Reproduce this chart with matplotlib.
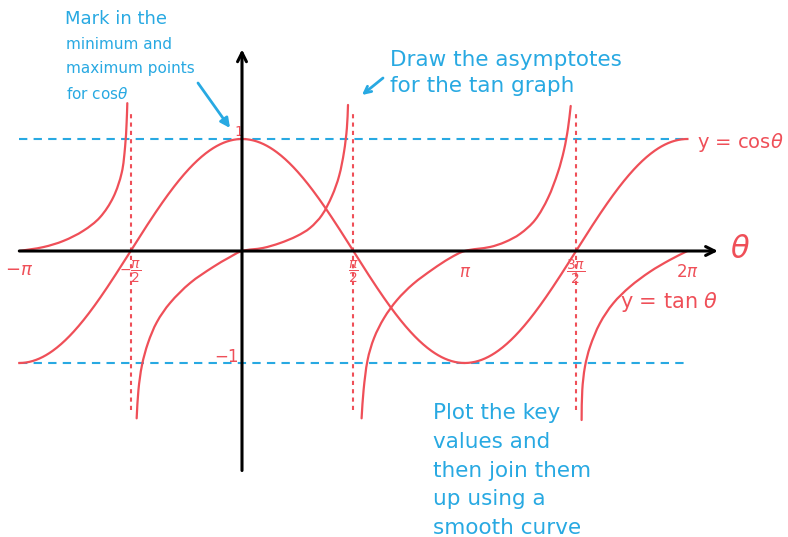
import numpy as np
import matplotlib.pyplot as plt
from matplotlib.path import Path
from matplotlib.patches import PathPatch

# ---- data ----
theta_ticks = [-1.0, -0.5, 0.5, 1.0, 1.5, 2.0]          # multiples of pi
tick_labels = [r"$-\pi$", r"$-\dfrac{\pi}{2}$", r"$\dfrac{\pi}{2}$", r"$\pi$",
               r"$\dfrac{3\pi}{2}$", r"$2\pi$"]
asymptotes = [-0.5, 0.5, 1.5]                            # multiples of pi
cos_extrema_levels = [1, -1]
cos_range = (-1.0, 2.0)                                  # multiples of pi

# hand-drawn tan branches (theta in multiples of pi, value)
tan1_theta = [-1.0, -0.892, -0.802, -0.713, -0.638, -0.578, -0.540, -0.525, -0.518, -0.515]
tan1_value = [0.0, 0.035, 0.09, 0.18, 0.30, 0.48, 0.70, 0.93, 1.15, 1.32]

tan2_theta = [-0.473, -0.465, -0.449, -0.422, -0.382, -0.323, -0.233, -0.130, -0.054, 0.0,
              0.094, 0.171, 0.247, 0.305, 0.359, 0.404, 0.436, 0.458, 0.471, 0.476]
tan2_value = [-1.494, -1.241, -1.018, -0.821, -0.634, -0.464, -0.286, -0.143, -0.054, 0.0,
              0.027, 0.071, 0.134, 0.205, 0.321, 0.491, 0.670, 0.884, 1.098, 1.304]

tan3_theta = [0.537, 0.546, 0.564, 0.593, 0.638, 0.696, 0.768, 0.858, 0.934, 1.0,
              1.114, 1.181, 1.248, 1.316, 1.374, 1.419, 1.446, 1.464, 1.476]
tan3_value = [-1.494, -1.241, -0.973, -0.777, -0.598, -0.438, -0.295, -0.161, -0.063, 0.0,
              0.036, 0.080, 0.152, 0.277, 0.473, 0.705, 0.902, 1.098, 1.295]

tan4_theta = [1.525, 1.528, 1.540, 1.563, 1.607, 1.667, 1.742, 1.832, 1.921, 2.0]
tan4_value = [-1.509, -1.241, -1.033, -0.854, -0.646, -0.467, -0.319, -0.185, -0.080, 0.0]

RED = "#ef4f58"
BLUE = "#28a9e2"
W, H = 788, 537
X0, Y0 = 242, 251          # pixel of origin
PX_PI, PX_UNIT = 222.7, 112

fig = plt.figure(figsize=(W / 100, H / 100), dpi=100)
ax = fig.add_axes([0, 0, 1, 1])
ax.set_xlim(-X0 * np.pi / PX_PI, (W - X0) * np.pi / PX_PI)
ax.set_ylim(-(H - Y0) / PX_UNIT, Y0 / PX_UNIT)
ax.axis("off")


def P(px, py):
    return (px / W, 1 - py / H)


def smooth_path(xs, ys):
    """Cubic Bezier path passing through the given points (chord-length tangents)."""
    pts = np.column_stack([xs, ys]).astype(float)
    scale = np.array([PX_PI / np.pi, PX_UNIT])
    d = np.sqrt((((pts[1:] - pts[:-1]) * scale) ** 2).sum(axis=1))
    t = np.concatenate([[0], np.cumsum(d)])
    n = len(pts)
    m = np.zeros_like(pts)
    m[0] = (pts[1] - pts[0]) / (t[1] - t[0])
    m[-1] = (pts[-1] - pts[-2]) / (t[-1] - t[-2])
    for i in range(1, n - 1):
        m[i] = (pts[i + 1] - pts[i - 1]) / (t[i + 1] - t[i - 1])
    verts = [tuple(pts[0])]
    codes = [Path.MOVETO]
    for i in range(n - 1):
        h = t[i + 1] - t[i]
        verts += [tuple(pts[i] + m[i] * h / 3), tuple(pts[i + 1] - m[i + 1] * h / 3),
                  tuple(pts[i + 1])]
        codes += [Path.CURVE4] * 3
    return Path(verts, codes)


# horizontal blue dashed lines at max/min
for lv in cos_extrema_levels:
    ax.plot([cos_range[0] * np.pi, cos_range[1] * np.pi], [lv, lv], color=BLUE,
            lw=1.5, dashes=(4, 3), zorder=1)

# red dotted asymptotes
for a in asymptotes:
    ax.plot([a * np.pi, a * np.pi], [-1.42, 1.25], color=RED, lw=1.5,
            dashes=(2, 2), zorder=1)

# cos curve
th = np.linspace(cos_range[0] * np.pi, cos_range[1] * np.pi, 800)
ax.plot(th, np.cos(th), color=RED, lw=1.6, zorder=3)

# tan branches
for tt, vv in [(tan1_theta, tan1_value), (tan2_theta, tan2_value),
               (tan3_theta, tan3_value), (tan4_theta, tan4_value)]:
    ax.add_patch(PathPatch(smooth_path(np.array(tt) * np.pi, vv), facecolor="none",
                           edgecolor=RED, lw=1.6, zorder=3, capstyle="round"))

# axes
ax.annotate("", xy=(2.137 * np.pi, 0), xytext=(-np.pi, 0),
            arrowprops=dict(arrowstyle="->", lw=2.2, color="black",
                            mutation_scale=16, shrinkA=0, shrinkB=0), zorder=4)
ax.annotate("", xy=(0, 1.8), xytext=(0, -1.96),
            arrowprops=dict(arrowstyle="->", lw=2.2, color="black",
                            mutation_scale=16, shrinkA=0, shrinkB=0), zorder=4)

# tick labels
for v, lab in zip(theta_ticks, tick_labels):
    if v == -1.0:
        ax.text(v * np.pi, -0.17, lab, color=RED, fontsize=13, ha="center", va="center")
    elif "frac" in lab:
        ax.text(v * np.pi, -0.19, lab, color=RED, fontsize=10, ha="center", va="center")
    else:
        ax.text(v * np.pi, -0.19, lab, color=RED, fontsize=12, ha="center", va="center")

ax.text(-0.04, 1.06, "1", color=RED, fontsize=10, ha="center", va="center")
ax.text(-0.05, -0.95, "−1", color=RED, fontsize=12, ha="right", va="center")

ax.text(*P(740, 249), r"$\theta$", transform=fig.transFigure, color=RED,
        fontsize=22, ha="center", va="center")
ax.text(*P(697, 142), r"y = cos$\theta$", transform=fig.transFigure, color=RED,
        fontsize=14, ha="left", va="center")
ax.text(*P(620, 302), r"y = tan $\theta$", transform=fig.transFigure, color=RED,
        fontsize=15, ha="left", va="center")

# blue notes
ax.text(*P(65, 10), "Mark in the", transform=fig.transFigure, color=BLUE,
        fontsize=13, ha="left", va="top")
ax.text(*P(66, 37), "minimum and\nmaximum points\nfor cos$\\theta$",
        transform=fig.transFigure, color=BLUE, fontsize=11, ha="left",
        va="top", linespacing=1.75)
ax.annotate("", xy=P(230, 128), xytext=P(198, 83), xycoords="figure fraction",
            textcoords="figure fraction",
            arrowprops=dict(arrowstyle="-|>", color=BLUE, lw=2,
                            mutation_scale=14, shrinkA=0, shrinkB=0))

ax.text(*P(390, 50), "Draw the asymptotes\nfor the tan graph",
        transform=fig.transFigure, color=BLUE, fontsize=15.5, ha="left",
        va="top", linespacing=1.4)
ax.annotate("", xy=P(362, 95), xytext=P(383, 78), xycoords="figure fraction",
            textcoords="figure fraction",
            arrowprops=dict(arrowstyle="->", color=BLUE, lw=2,
                            mutation_scale=12, shrinkA=0, shrinkB=0))

ax.text(*P(433, 403), "Plot the key\nvalues and\nthen join them\nup using a\nsmooth curve",
        transform=fig.transFigure, color=BLUE, fontsize=15.5, ha="left",
        va="top", linespacing=1.55)

fig.savefig("out.png", dpi=100, facecolor="white")
